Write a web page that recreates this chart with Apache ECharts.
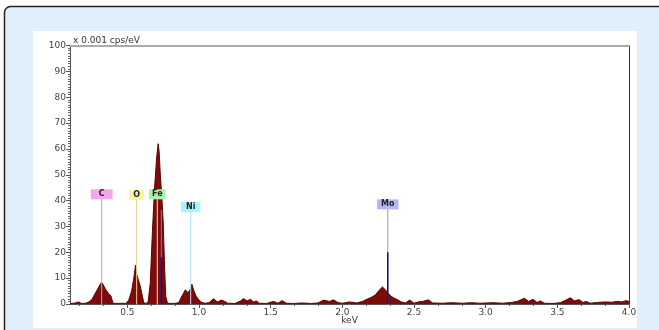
<!DOCTYPE html>
<html><head><meta charset="utf-8">
<script src="https://cdn.jsdelivr.net/npm/echarts@6/dist/echarts.min.js"></script>
<style>html,body{margin:0;padding:0;background:#fff}#c{width:659px;height:330px}</style>
</head><body><div id="c"></div>
<script>
// Spectrum (keV vs x0.001 cps/eV)
const energy = [0.10,0.13,0.16,0.18,0.21,0.23,0.25,0.27,0.29,0.31,0.32,0.33,0.35,0.37,0.385,0.395,0.40,0.43,0.46,0.49,
  0.51,0.53,0.545,0.557,0.565,0.577,0.59,0.605,0.615,0.63,0.645,0.66,0.675,0.69,0.705,0.715,0.722,0.73,0.74,0.75,0.76,0.768,
  0.78,0.81,0.84,0.86,0.875,0.89,0.905,0.92,0.935,0.95,0.965,0.98,1.00,1.02,1.04,1.07,1.10,1.13,1.155,1.18,1.20,1.25,
  1.29,1.31,1.335,1.36,1.38,1.40,1.42,1.47,1.52,1.55,1.58,1.61,1.66,1.72,1.78,1.83,1.87,1.91,1.94,1.97,2.00,2.05,2.10,
  2.14,2.17,2.20,2.23,2.26,2.28,2.30,2.32,2.34,2.36,2.39,2.41,2.44,2.47,2.50,2.53,2.56,2.60,2.63,2.70,2.76,2.84,2.90,2.96,
  3.05,3.12,3.18,3.22,3.27,3.30,3.33,3.36,3.38,3.41,3.47,3.52,3.56,3.59,3.62,3.65,3.68,3.70,3.73,3.78,3.83,3.88,3.92,3.95,3.98,4.00];
const counts = [0.2,0.3,0.8,0.2,0.3,0.8,1.5,3.5,5.5,7.5,8.4,7.6,5.5,4.0,3.2,2.6,0.3,0.2,0.3,0.2,
  1.5,5,10,15,11.5,11,7,3,0.5,0.2,0.8,8,28,45,57,62,59,50,42,32,14,3,
  0.3,0.2,0.3,0.6,2.5,4,5.5,4.5,5,7.7,5,3,1.5,0.6,0.3,0.5,2,0.8,1.5,1,0.3,0.2,
  1.2,2.1,1.2,1.8,0.8,1.2,0.3,0.2,1.0,0.3,1.3,0.3,0.2,0.4,0.2,0.4,1.5,1.0,1.6,0.5,0.3,0.8,0.4,
  1.0,1.8,2.5,3.5,5.5,6.6,5.5,4.2,3,2.3,1.5,0.8,0.4,1.5,0.3,0.8,1.0,1.6,0.4,0.3,0.5,0.3,0.5,0.3,
  0.5,0.3,0.6,1.0,2.2,1.0,1.8,0.6,1.2,0.3,0.2,0.5,1.5,2.4,1.2,1.7,0.6,1.0,0.3,0.6,0.8,0.7,1.0,0.8,1.3,1.0];

// Element markers
const elements = ['C','O','Fe','Ni','Mo'];
const elementEnergy = [0.321,0.565,0.709,0.942,2.317];
const markerHeight = [40.3,40.0,40.3,35.4,36.4];
// additional line markers (no label): energy, total height, dark lower part height
const extraEnergy = [0.737, 2.317];
const extraHeight = [36.4, 0];
const darkHeight = [18.0, 20.0];

const xTickValues = [0.5,1.0,1.5,2.0,2.5,3.0,3.5,4.0];
const yMin = 0, yMax = 100, yStep = 10;

const boxColors = ['#f4a6ee','#fff3a6','#a6f2a6','#a8f4fc','#b6b6f4'];
const lineColors = ['#c89fb4','#ead08e','#efe6aa','#a6e8f4','#9a9ab4'];
const boxPad = [[0,8],[0,4],[0,3],[0,5],[0,4]];

const minorX = [];
for (let k = 1; k <= 24; k++) { if (k % 3 !== 0) minorX.push(+(k/6).toFixed(4)); }

const chart = echarts.init(document.getElementById('c'), null, {renderer:'canvas'});
const series = [{
  type:'line', xAxisIndex:0, yAxisIndex:0,
  data: energy.map((e,i)=>[e,counts[i]]),
  symbol:'none', smooth:false, z:2,
  lineStyle:{color:'#5c0404', width:1},
  areaStyle:{color:'#7d0b0b', opacity:1}
}];
elements.forEach((el,i)=>{
  series.push({
    type:'line', xAxisIndex:0, yAxisIndex:0, z:5,
    data:[{value:[elementEnergy[i],0], label:{show:false}},
          {value:[elementEnergy[i],markerHeight[i]]}],
    symbol:'rect', symbolSize:[1,1], showSymbol:true,
    itemStyle:{color:lineColors[i]},
    lineStyle:{color:lineColors[i], width:1},
    label:{show:true, position:'top', distance:0, formatter:el,
      backgroundColor:boxColors[i], color:'#222', fontSize:8, fontWeight:'bold',
      fontFamily:'DejaVu Sans', padding:boxPad[i], lineHeight:10},
    silent:true, animation:false
  });
});
extraEnergy.forEach((e,i)=>{
  if (extraHeight[i] > 0) {
    series.push({type:'line', z:6, data:[[e,0],[e,extraHeight[i]]], symbol:'none',
      lineStyle:{color:'#7e7ec8', width:1}, animation:false});
  }
  series.push({type:'line', z:7, data:[[e,0],[e,darkHeight[i]]], symbol:'none',
    lineStyle:{color:'#10107a', width:1.5}, animation:false});
});

chart.setOption({
  animation:false,
  backgroundColor:'#ffffff',
  graphic:[
    {type:'rect', z:-10, shape:{x:4.5,y:6.5,width:700,height:400,r:6}, style:{fill:'#dff0fa', stroke:'#222', lineWidth:1.5}, silent:true},
    {type:'rect', z:-9, shape:{x:33,y:31,width:604,height:297}, style:{fill:'#ffffff'}, silent:true}
  ],
  grid:{left:70, right:30, top:45.5, bottom:26, containLabel:false, outerBoundsMode:'none'},
  xAxis:[
    {type:'value', min:0.1, max:4.0, position:'bottom',
     name:'keV', nameLocation:'middle', nameGap:12.5, nameMoveOverlap:false,
     nameTextStyle:{fontSize:9, color:'#333', fontFamily:'DejaVu Sans', verticalAlign:'top'},
     axisLine:{show:true, onZero:false, lineStyle:{color:'#555', width:1}},
     axisTick:{show:true, customValues:xTickValues, length:4, lineStyle:{color:'#555'}},
     axisLabel:{show:true, customValues:xTickValues, formatter:v=>v.toFixed(1), fontSize:9, color:'#444', margin:4, fontFamily:'DejaVu Sans'},
     splitLine:{show:false}},
    {type:'value', min:0.1, max:4.0, position:'bottom',
     axisLine:{show:false}, axisLabel:{show:false}, splitLine:{show:false},
     axisTick:{show:true, customValues:minorX, length:2, lineStyle:{color:'#555'}}},
    {type:'value', min:0.1, max:4.0, position:'top',
     axisLine:{show:true, onZero:false, lineStyle:{color:'#aaa', width:2}},
     axisTick:{show:false}, axisLabel:{show:false}, splitLine:{show:false}}
  ],
  yAxis:[
    {type:'value', min:yMin, max:yMax, interval:yStep, position:'left',
     name:'x 0.001 cps/eV', nameLocation:'end', nameGap:0,
     nameTextStyle:{fontSize:9, color:'#333', align:'left', verticalAlign:'bottom', padding:[0,0,0,3], fontFamily:'DejaVu Sans'},
     axisLine:{show:true, onZero:false, lineStyle:{color:'#555', width:1}},
     axisTick:{show:true, length:4, lineStyle:{color:'#555'}},
     minorTick:{show:true, splitNumber:10, length:2, lineStyle:{color:'#666'}},
     axisLabel:{fontSize:9, color:'#444', margin:4, fontFamily:'DejaVu Sans'},
     splitLine:{show:false}},
    {type:'value', min:yMin, max:yMax, position:'right',
     axisLine:{show:true, onZero:false, lineStyle:{color:'#333', width:1}},
     axisTick:{show:false}, axisLabel:{show:false}, splitLine:{show:false}}
  ],
  series: series
});
</script></body></html>
